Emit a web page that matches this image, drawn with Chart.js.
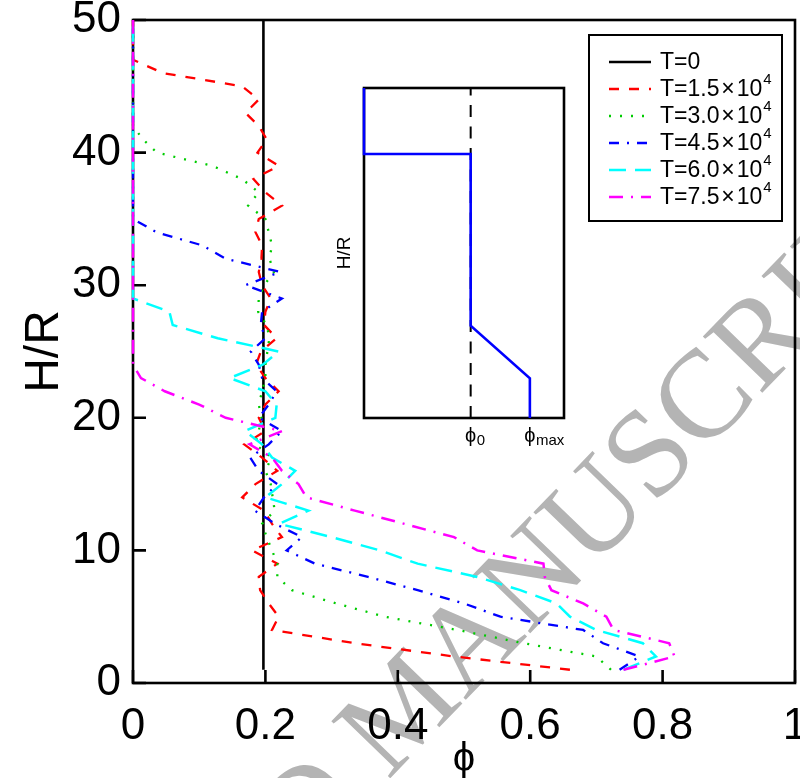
<!DOCTYPE html>
<html lang="en">
<head>
    <meta charset="UTF-8">
    <title>Concentration profiles</title>
    <script src="https://cdn.jsdelivr.net/npm/chart.js"></script>
    <style>
        html, body { margin: 0; padding: 0; background: #fff; }
        #wrap { position: relative; width: 800px; height: 778px; }
        #main { position: absolute; left: 0; top: 0; }
        #inset { position: absolute; left: 320px; top: 78px; }
    </style>
</head>
<body>
<div id="wrap">
    <canvas id="main" width="800" height="778"></canvas>
    <canvas id="inset" width="260" height="382"></canvas>
</div>

<script>
    // heights H/R where the profiles are sampled
    const heights = [1, 2, 3, 4, 5, 6, 7, 8, 9, 10,
                     11, 12, 13, 14, 15, 16, 17, 18, 19, 20,
                     21, 22, 23, 24, 25, 26, 27, 28, 29, 30,
                     31, 32, 33, 34, 35, 36, 37, 38, 39, 40,
                     41, 42, 43, 44, 45, 46, 47, 48, 49, 50];

    // T = 0: uniform profile
    const t0Heights = [1, 50];
    const phiT0 = [0.197, 0.197];

    const phiT15 = [0.66, 0.485, 0.335, 0.21, 0.22, 0.205, 0.192, 0.19, 0.218, 0.18,
                    0.225, 0.21, 0.198, 0.165, 0.185, 0.218, 0.195, 0.168, 0.2, 0.19,
                    0.2, 0.22, 0.2, 0.186, 0.193, 0.217, 0.198, 0.2, 0.208, 0.195,
                    0.19, 0.194, 0.195, 0.185, 0.19, 0.225, 0.2, 0.182, 0.22, 0.188,
                    0.202, 0.19, 0.17, 0.19, 0.165, 0.045, 0, 0, 0, 0];

    const phiT30 = [0.722, 0.7, 0.59, 0.49, 0.38, 0.307, 0.24, 0.218, 0.218, 0.21,
                    0.202, 0.195, 0.214, 0.211, 0.208, 0.2, 0.209, 0.185, 0.19, 0.194,
                    0.19, 0.195, 0.2, 0.2, 0.203, 0.206, 0.202, 0.189, 0.19, 0.198,
                    0.213, 0.206, 0.21, 0.205, 0.2, 0.174, 0.19, 0.165, 0.12, 0.036,
                    0.015, 0, 0, 0, 0, 0, 0, 0, 0, 0];

    const phiT45 = [0.735, 0.765, 0.71, 0.68, 0.555, 0.5, 0.43, 0.355, 0.275, 0.232,
                    0.255, 0.215, 0.184, 0.198, 0.218, 0.19, 0.177, 0.205, 0.225, 0.19,
                    0.205, 0.217, 0.195, 0.19, 0.178, 0.2, 0.193, 0.195, 0.225, 0.17,
                    0.222, 0.14, 0.105, 0.035, 0, 0, 0, 0, 0, 0,
                    0, 0, 0, 0, 0, 0, 0, 0, 0, 0];

    const phiT60 = [0.741, 0.79, 0.77, 0.7, 0.66, 0.64, 0.585, 0.52, 0.43, 0.373,
                    0.3, 0.221, 0.265, 0.2, 0.225, 0.245, 0.21, 0.195, 0.169, 0.215,
                    0.217, 0.2, 0.146, 0.196, 0.22, 0.128, 0.06, 0.055, 0, 0,
                    0, 0, 0, 0, 0, 0, 0, 0, 0, 0,
                    0, 0, 0, 0, 0, 0, 0, 0, 0, 0];

    const phiT75 = [0.741, 0.818, 0.81, 0.726, 0.715, 0.68, 0.632, 0.622, 0.62, 0.52,
                    0.485, 0.41, 0.335, 0.262, 0.25, 0.225, 0.21, 0.176, 0.225, 0.14,
                    0.1, 0.048, 0.012, 0, 0, 0, 0, 0, 0, 0,
                    0, 0, 0, 0, 0, 0, 0, 0, 0, 0,
                    0, 0, 0, 0, 0, 0, 0, 0, 0, 0];

    const seriesLabels = ["T=0", "T=1.5\u200a×\u200a10^4", "T=3.0\u200a×\u200a10^4",
                          "T=4.5\u200a×\u200a10^4", "T=6.0\u200a×\u200a10^4", "T=7.5\u200a×\u200a10^4"];

    // inset: sketch of the initial profile
    const insetPhi = [0, 0, 0.2, 0.2, 0.311, 0.311];
    const insetH = [50, 40, 40, 14, 6, 0];
    const phi0 = 0.2;
    const phiMax = 0.311;

    const FONT = "'Liberation Sans', Arial, sans-serif";
    Chart.defaults.font.family = FONT;
    Chart.defaults.color = "#000";

    function pts(xs, ys) {
        return xs.map((x, i) => ({x: x, y: ys[i]}));
    }

    const lineStyles = [
        {color: "#000000", dash: [], width: 2.6},
        {color: "#ff0000", dash: [10, 10], width: 2.3},
        {color: "#00cc00", dash: [2, 9], width: 2.3},
        {color: "#0000ff", dash: [10, 8, 2, 8], width: 2.3},
        {color: "#00ffff", dash: [17, 9], width: 2.5},
        {color: "#ff00ff", dash: [14, 8, 2, 8], width: 2.5}
    ];

    const seriesData = [
        pts(phiT0, t0Heights),
        pts(phiT15, heights),
        pts(phiT30, heights),
        pts(phiT45, heights),
        pts(phiT60, heights),
        pts(phiT75, heights)
    ];

    const datasets = seriesData.map((d, i) => ({
        label: seriesLabels[i],
        data: d,
        showLine: true,
        borderColor: lineStyles[i].color,
        borderDash: lineStyles[i].dash,
        borderWidth: lineStyles[i].width,
        pointRadius: 0,
        tension: 0,
        clip: false,
        order: seriesData.length - 1 - i
    }));

    // white page + watermark text behind everything
    const watermark = {
        id: "watermark",
        beforeDraw(chart, args, o) {
            const ctx = chart.ctx;
            ctx.save();
            ctx.fillStyle = "#fff";
            ctx.fillRect(0, 0, chart.width, chart.height);
            if (o.text) {
                ctx.translate(o.x, o.y);
                ctx.rotate(o.angle * Math.PI / 180);
                ctx.font = o.font;
                ctx.fillStyle = o.color;
                ctx.textAlign = "center";
                ctx.textBaseline = "alphabetic";
                ctx.fillText(o.text, 0, o.shift);
            }
            ctx.restore();
        }
    };

    // box round the axes, inward tick marks
    const frame = {
        id: "frame",
        beforeDatasetsDraw(chart, args, o) {
            const {ctx, chartArea: a, scales} = chart;
            ctx.save();
            if (o.fill) {
                ctx.fillStyle = o.fill;
                ctx.fillRect(a.left, a.top, a.right - a.left, a.bottom - a.top);
            }
            ctx.strokeStyle = "#000";
            ctx.lineWidth = o.width;
            ctx.strokeRect(a.left, a.top, a.right - a.left, a.bottom - a.top);
            if (o.tick) {
                ctx.beginPath();
                scales.x.ticks.forEach(t => {
                    const px = scales.x.getPixelForValue(t.value);
                    ctx.moveTo(px, a.bottom);
                    ctx.lineTo(px, a.bottom - o.tick);
                });
                scales.y.ticks.forEach(t => {
                    const py = scales.y.getPixelForValue(t.value);
                    ctx.moveTo(a.left, py);
                    ctx.lineTo(a.left + o.tick, py);
                });
                ctx.stroke();
            }
            ctx.restore();
        }
    };

    // boxed legend with superscripts
    const boxLegend = {
        id: "boxLegend",
        afterDraw(chart, args, o) {
            const ctx = chart.ctx;
            ctx.save();
            ctx.fillStyle = "#fff";
            ctx.fillRect(o.x, o.y, o.w, o.h);
            ctx.strokeStyle = "#000";
            ctx.lineWidth = 2;
            ctx.strokeRect(o.x, o.y, o.w, o.h);
            chart.data.datasets.forEach((ds, i) => {
                const cy = o.y + o.first + i * o.step;
                ctx.setLineDash(ds.borderDash);
                ctx.strokeStyle = ds.borderColor;
                ctx.lineWidth = ds.borderWidth;
                ctx.beginPath();
                ctx.moveTo(o.x + o.line[0], cy);
                ctx.lineTo(o.x + o.line[1], cy);
                ctx.stroke();
                ctx.setLineDash([]);

                const parts = ds.label.split("^");
                const tx = o.x + o.text;
                ctx.fillStyle = "#000";
                ctx.textAlign = "left";
                ctx.textBaseline = "middle";
                ctx.font = o.size + "px " + FONT;
                ctx.fillText(parts[0], tx, cy + 1);
                if (parts[1]) {
                    const w = ctx.measureText(parts[0]).width;
                    ctx.font = o.supSize + "px " + FONT;
                    ctx.fillText(parts[1], tx + w + 1, cy - 9);
                }
            });
            ctx.restore();
        }
    };

    new Chart(document.getElementById("main"), {
        type: "scatter",
        data: {datasets: datasets},
        options: {
            responsive: false,
            animation: false,
            devicePixelRatio: 1,
            layout: {padding: {top: 20, right: 5, left: 0, bottom: 0}},
            plugins: {
                legend: {display: false},
                tooltip: {enabled: false},
                frame: {width: 2.6, tick: 13},
                boxLegend: {x: 589, y: 35, w: 193, h: 186, first: 27, step: 27,
                            line: [20, 62], text: 71, size: 23, supSize: 15},
                watermark: {text: "ACCEPTED MANUSCRIPT", x: 403, y: 706, angle: -46, shift: 41,
                            font: "125px 'Liberation Serif', 'Times New Roman', serif", color: "#b4b4b4"}
            },
            scales: {
                x: {
                    type: "linear",
                    min: 0,
                    max: 1,
                    ticks: {stepSize: 0.2, padding: 17, maxRotation: 0, font: {size: 44},
                            callback: v => String(Number(v.toFixed(2)))},
                    grid: {display: false, drawTicks: false, tickLength: 0},
                    border: {display: false},
                    title: {display: true, text: "ϕ", font: {size: 40, lineHeight: 0.9}, padding: {top: 0, bottom: 0}},
                    afterFit(s) { s.height = 95; s.paddingLeft = 0; s.paddingRight = 0; }
                },
                y: {
                    type: "linear",
                    min: 0,
                    max: 50,
                    ticks: {stepSize: 10, padding: 12, font: {size: 44}},
                    grid: {display: false, drawTicks: false, tickLength: 0},
                    border: {display: false},
                    title: {display: true, text: "H/R", font: {size: 48}, padding: {top: 16, bottom: 0}},
                    afterFit(s) { s.width = 133; s.paddingTop = 0; s.paddingBottom = 0; }
                }
            }
        },
        plugins: [watermark, frame, boxLegend]
    });

    // subscript tick labels of the inset (phi centred on the tick)
    const insetLabels = {
        id: "insetLabels",
        afterDraw(chart, args, o) {
            const ctx = chart.ctx;
            const xs = chart.scales.x;
            ctx.save();
            ctx.fillStyle = "#000";
            ctx.textBaseline = "middle";
            ctx.textAlign = "left";
            o.items.forEach(it => {
                ctx.font = o.size + "px " + FONT;
                const w1 = ctx.measureText("ϕ").width;
                const x0 = xs.getPixelForValue(it.value) - w1 / 2;
                ctx.fillText("ϕ", x0, o.y);
                ctx.font = o.subSize + "px " + FONT;
                ctx.fillText(it.sub, x0 + w1 + 0.5, o.y + 5);
            });
            ctx.restore();
        }
    };

    new Chart(document.getElementById("inset"), {
        type: "scatter",
        data: {
            datasets: [
                {label: "profile", data: pts(insetPhi, insetH), showLine: true,
                 borderColor: "#0000ff", borderWidth: 2.6, pointRadius: 0, clip: false, order: 0},
                {label: "phi0", data: pts([phi0, phi0], [0, 50]), showLine: true,
                 borderColor: "#000", borderDash: [12, 9.5], borderWidth: 2, pointRadius: 0, order: 1}
            ]
        },
        options: {
            responsive: false,
            animation: false,
            devicePixelRatio: 1,
            layout: {padding: {top: 10, right: 16, left: 0, bottom: 0}},
            plugins: {
                legend: {display: false},
                tooltip: {enabled: false},
                frame: {width: 2.6, tick: 0, fill: "#fff"},
                insetLabels: {y: 358, size: 20, subSize: 15,
                              items: [{value: phi0, sub: "0"}, {value: phiMax, sub: "max"}]}
            },
            scales: {
                x: {
                    type: "linear", min: 0, max: 0.375,
                    ticks: {display: false},
                    grid: {display: false, drawTicks: false, tickLength: 0},
                    border: {display: false},
                    afterFit(s) { s.height = 42; s.paddingLeft = 0; s.paddingRight = 0; }
                },
                y: {
                    type: "linear", min: 0, max: 50,
                    ticks: {display: false},
                    grid: {display: false, drawTicks: false, tickLength: 0},
                    border: {display: false},
                    title: {display: true, text: "H/R", font: {size: 19}, padding: {top: 13, bottom: 0}},
                    afterFit(s) { s.width = 44; s.paddingTop = 0; s.paddingBottom = 0; }
                }
            }
        },
        plugins: [frame, insetLabels]
    });
</script>
</body>
</html>
